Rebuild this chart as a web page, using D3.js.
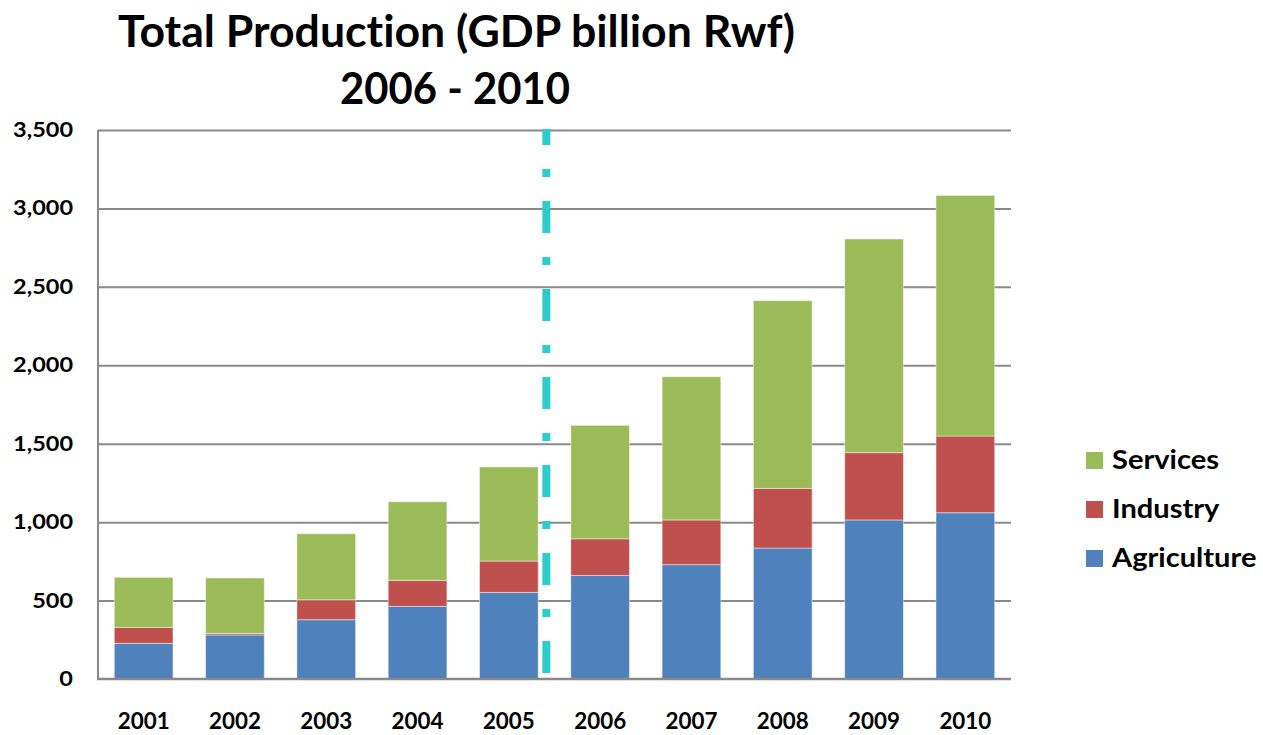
<!DOCTYPE html>
<html>
<head>
<meta charset="utf-8">
<script src="https://cdn.jsdelivr.net/npm/d3@7"></script>
<style>
  html, body { margin: 0; padding: 0; background: #fff; }
  svg { display: block; }
  text { font-family: Lato, "Open Sans", sans-serif; font-weight: 700; fill: #000; font-variant-ligatures: none; font-feature-settings: "liga" 0, "dlig" 0; }
</style>
</head>
<body>
<svg id="chart" width="1263" height="735"></svg>
<script>
const years = ["2001","2002","2003","2004","2005","2006","2007","2008","2009","2010"];
const agriculture = [227, 281, 378, 463, 552, 660, 729, 835, 1014, 1060];
const industry    = [102,  10, 127, 166, 200, 234, 285, 380,  429,  489];
const services    = [319, 353, 421, 501, 600, 723, 913, 1197, 1362, 1534];
const seriesNames = ["Agriculture", "Industry", "Services"];
const seriesColors = ["#4F81BD", "#C0504D", "#9BBB59"];
const yTicks = [0, 500, 1000, 1500, 2000, 2500, 3000, 3500];
const titleLines = ["Total Production (GDP billion Rwf)", "2006 - 2010"];

const svg = d3.select("#chart");
const margin = {left: 98, right: 252, top: 130, bottom: 56};
const W = 1263, H = 735;

const x = d3.scaleBand().domain(years)
  .range([margin.left, W - margin.right])
  .paddingInner(0.357).paddingOuter(0.1785);
const y = d3.scaleLinear().domain([0, 3500]).range([H - margin.bottom, margin.top]);

const rows = years.map((yr, i) => ({year: yr, Agriculture: agriculture[i], Industry: industry[i], Services: services[i]}));
const stack = d3.stack().keys(seriesNames)(rows);

// gridlines
const grid = svg.append("g").attr("class", "grid")
  .attr("transform", `translate(${margin.left},0)`)
  .call(d3.axisLeft(y).tickValues(yTicks).tickSize(-(W - margin.right - margin.left)).tickFormat(""));
grid.select(".domain").remove();
grid.selectAll(".tick line").attr("stroke", "#898989").attr("stroke-width", 2)
  .filter(d => d === 0).remove();

// bars
const colorOf = d3.scaleOrdinal().domain(seriesNames).range(seriesColors);
svg.append("g").selectAll("g").data(stack).join("g")
  .attr("fill", d => colorOf(d.key))
  .selectAll("rect").data(d => d).join("rect")
  .attr("x", d => x(d.data.year))
  .attr("width", x.bandwidth())
  .attr("y", d => y(d[1]))
  .attr("height", d => y(d[0]) - y(d[1]))
  .attr("stroke", "#ffffff").attr("stroke-opacity", 0.45).attr("stroke-width", 1);

// axis lines
svg.append("line")
  .attr("x1", margin.left).attr("x2", margin.left)
  .attr("y1", y(3500)).attr("y2", y(0))
  .attr("stroke", "#898989").attr("stroke-width", 2);
svg.append("line")
  .attr("x1", margin.left - 1).attr("x2", W - margin.right)
  .attr("y1", y(0)).attr("y2", y(0))
  .attr("stroke", "#898989").attr("stroke-width", 2.5);

// dash-dot separator between 2005 and 2006
const sepX = x("2005") + x.bandwidth() + (x.step() - x.bandwidth()) * 0.25;
svg.append("line")
  .attr("x1", sepX).attr("x2", sepX)
  .attr("y1", y(3500) - 1).attr("y2", y(0) - 6)
  .attr("stroke", "#2ECBCB").attr("stroke-width", 8)
  .attr("stroke-dasharray", "32 24 8 24").attr("stroke-dashoffset", 16);

// y tick labels
const fmt = d3.format(",");
const yTexts = svg.append("g").selectAll("text").data(yTicks).join("text")
  .attr("font-size", 20)
  .attr("text-anchor", "end")
  .text(d => fmt(d));
const wRef = yTexts.filter(d => d === 3500).node().getComputedTextLength();
const syY = 60 / wRef;
yTexts.attr("transform", d => `translate(73,${y(d) + 7}) scale(${syY},1)`);

// x tick labels
const xTexts = svg.append("g").selectAll("text").data(years).join("text")
  .attr("font-size", 22)
  .attr("text-anchor", "middle")
  .text(d => d);
const xRef = xTexts.filter(d => d === "2001").node().getComputedTextLength();
const sx = 52 / xRef;
xTexts.attr("transform", d => `translate(${x(d) + x.bandwidth() / 2},729) scale(${sx},1)`);

// title
const titleSpecs = [{w: 677, cx: 456.5, base: 46.7}, {w: 230, cx: 455, base: 104}];
titleLines.forEach((t, i) => {
  const el = svg.append("text").attr("font-size", 44).attr("text-anchor", "middle").text(t);
  const tw = el.node().getComputedTextLength();
  el.attr("transform", `translate(${titleSpecs[i].cx},${titleSpecs[i].base}) scale(${titleSpecs[i].w / tw},1)`);
});

// legend
const legendOrder = ["Services", "Industry", "Agriculture"];
const legendY = [469, 518, 567];
const items = svg.append("g").selectAll("g").data(legendOrder).join("g");
items.append("rect")
  .attr("x", 1086).attr("width", 17).attr("height", 17)
  .attr("y", (d, i) => legendY[i] - 17)
  .attr("fill", d => colorOf(d));
const lt = items.append("text").attr("font-size", 27).text(d => d);
const lRef = lt.filter(d => d === "Services").node().getComputedTextLength();
const sl = 107 / lRef;
lt.attr("transform", (d, i) => `translate(1112,${legendY[i]}) scale(${sl},1)`);
</script>
</body>
</html>
